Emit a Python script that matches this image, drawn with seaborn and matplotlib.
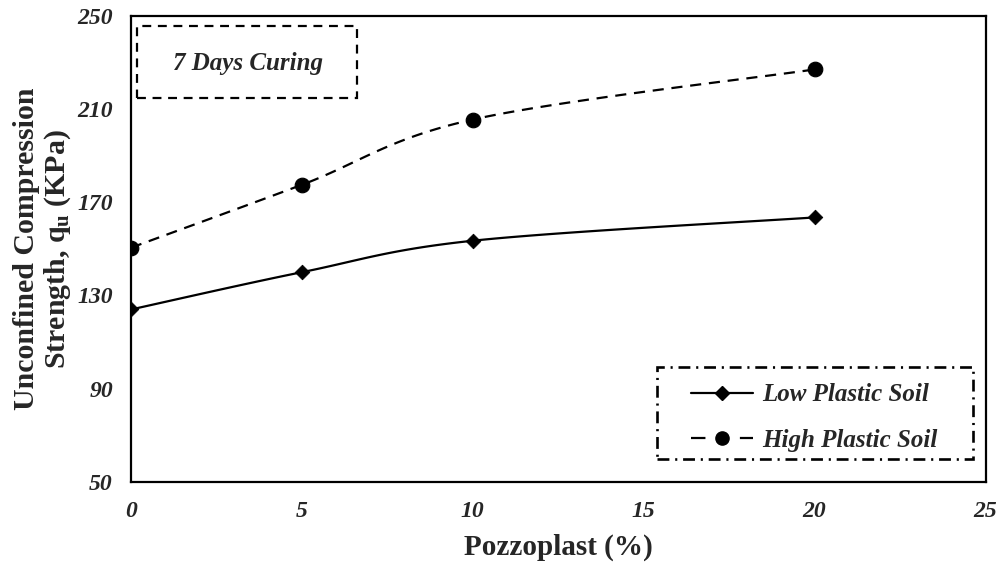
import numpy as np
import matplotlib
matplotlib.use("Agg")
import matplotlib.pyplot as plt
from matplotlib.lines import Line2D
from matplotlib.patches import Rectangle
import seaborn as sns

pozzoplast = [0, 5, 10, 20]
low_plastic = [124, 140, 153.5, 163.5]
high_plastic = [150.5, 177.5, 205.5, 227]
series_names = ["Low Plastic Soil", "High Plastic Soil"]
x_ticks = [0, 5, 10, 15, 20, 25]
y_ticks = [50, 90, 130, 170, 210, 250]

sns.set_theme(style="white")
plt.rcParams["font.family"] = ["Liberation Serif", "DejaVu Serif"]
plt.rcParams["mathtext.fontset"] = "custom"
plt.rcParams["mathtext.rm"] = "Liberation Serif:bold"
plt.rcParams["mathtext.bf"] = "Liberation Serif:bold"
plt.rcParams["mathtext.it"] = "Liberation Serif:bold"

fig = plt.figure(figsize=(9.96, 5.65), dpi=100)
ax = fig.add_axes([0.1315, 0.147, 0.858, 0.825])
ax.set_xlim(0, 25)
ax.set_ylim(50, 250)


def smooth(xs, ys, sx=25.0, sy=200.0, n=40):
    # Excel-style smoothed line (Catmull-Rom Bezier) in normalized screen space
    P = np.column_stack([np.asarray(xs, float) / sx, np.asarray(ys, float) / sy])
    out = [P[0]]
    for i in range(len(P) - 1):
        p0 = P[i - 1] if i > 0 else P[i]
        p1, p2 = P[i], P[i + 1]
        p3 = P[i + 2] if i + 2 < len(P) else P[i + 1]
        c1 = p1 + (p2 - p0) / 6.0
        c2 = p2 - (p3 - p1) / 6.0
        t = np.linspace(0, 1, n)[1:, None]
        b = ((1 - t) ** 3) * p1 + 3 * ((1 - t) ** 2) * t * c1 + 3 * (1 - t) * t ** 2 * c2 + t ** 3 * p2
        out.extend(b)
    out = np.array(out)
    return out[:, 0] * sx, out[:, 1] * sy


lx, ly = smooth(pozzoplast, low_plastic)
hx, hy = smooth(pozzoplast, high_plastic)

sns.lineplot(x=lx, y=ly, ax=ax, color="black", lw=1.6, sort=False, estimator=None)
sns.lineplot(x=hx, y=hy, ax=ax, color="black", lw=1.6, sort=False, estimator=None)
ax.lines[-1].set_dashes((5, 3.5))

sns.scatterplot(x=pozzoplast, y=low_plastic, ax=ax, marker="D", s=55, color="black",
                edgecolor="black", zorder=5)
sns.scatterplot(x=pozzoplast, y=high_plastic, ax=ax, marker="o", s=110, color="black",
                edgecolor="black", zorder=5)

ax.set_xticks(x_ticks)
ax.set_yticks(y_ticks)
ax.tick_params(axis="both", length=0, labelsize=17)
ax.tick_params(axis="x", pad=14)
ax.tick_params(axis="y", pad=13)
for lab in ax.get_xticklabels() + ax.get_yticklabels():
    lab.set_fontweight("bold")
    lab.set_fontstyle("italic")
for sp in ax.spines.values():
    sp.set_visible(True)
    sp.set_color("black")
    sp.set_linewidth(1.6)

ax.set_xlabel("Pozzoplast (%)", fontsize=21, fontweight="bold", labelpad=8)
ax.set_ylabel("Unconfined Compression\nStrength, q$_\\mathbf{u}$ (KPa)", fontsize=21.5,
              fontweight="bold", labelpad=3, linespacing=1.12)

# 7 Days Curing box
ax.add_patch(Rectangle((0.0075, 0.824), 0.2575, 0.155, transform=ax.transAxes, fill=False,
                       ec="black", lw=1.6, ls=(0, (4, 3)), zorder=6))
ax.text(0.137, 0.897, "7 Days Curing", transform=ax.transAxes, ha="center", va="center",
        fontsize=18, fontweight="bold", fontstyle="italic", zorder=7)

# legend box (dash-dot border)
ax.add_patch(Rectangle((0.616, 0.049), 0.369, 0.198, transform=ax.transAxes, fill=False,
                       ec="black", lw=1.9, ls=(0, (4.5, 2.2, 0.8, 2.2)), zorder=6))

handles = [
    Line2D([], [], color="black", lw=1.6, marker="D", markersize=7),
    Line2D([], [], color="black", lw=1.6, ls=(0, (6.5, 15.5)), marker="o", markersize=9.5),
]
leg = ax.legend(handles, series_names, loc="center left", bbox_to_anchor=(0.655, 0.138),
                frameon=False, handlelength=2.5, handletextpad=0.35,
                borderpad=0, labelspacing=0.9, borderaxespad=0,
                prop={"size": 18, "weight": "bold", "style": "italic",
                      "family": "Liberation Serif"})

fig.savefig("out.png", dpi=100)
